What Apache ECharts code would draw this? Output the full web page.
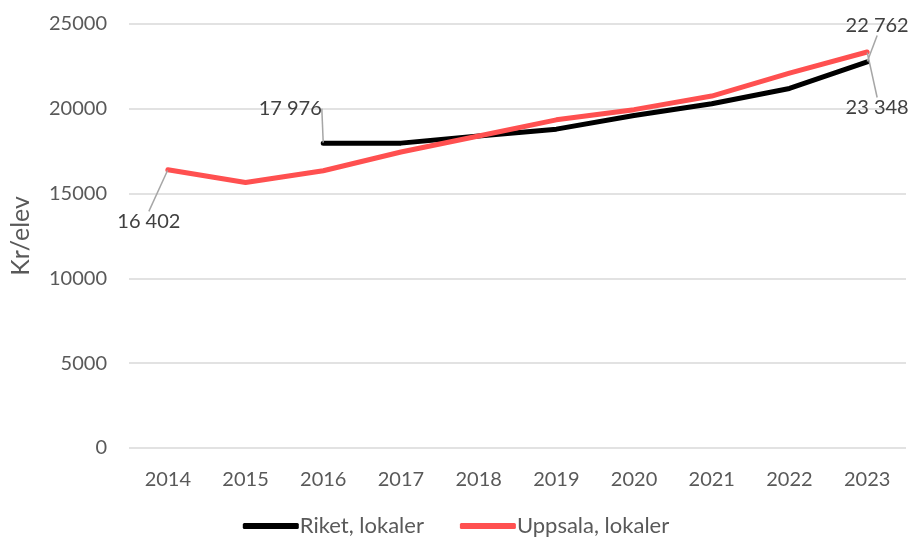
<!DOCTYPE html>
<html>
<head>
<meta charset="utf-8">
<script src="https://cdn.jsdelivr.net/npm/echarts@6/dist/echarts.min.js"></script>
<style>
    html, body { margin: 0; padding: 0; background: #fff; }
    #chart { width: 912px; height: 544px; }
</style>
</head>
<body>
<div id="chart"></div>
<script>
var years = ['2014', '2015', '2016', '2017', '2018', '2019', '2020', '2021', '2022', '2023'];
var riket = [null, null, 17976, 17976, 18400, 18800, 19600, 20300, 21200, 22762];
var uppsala = [16402, 15650, 16350, 17450, 18400, 19350, 19950, 20750, 22100, 23348];
var yTicks = [0, 5000, 10000, 15000, 20000, 25000];

var font = 'Lato, "Open Sans", sans-serif';
var grey = '#595959';

// etiketter med ledarlinje, förskjutning i px
var riketOffsets = { 2: [-33, -24], 9: [10, -26] };
var uppsalaOffsets = { 0: [-19, 62], 9: [10, 66] };

function fmtNum(v) {
    return String(v).replace(/\B(?=(\d{3})+(?!\d))/g, ' ');
}
function withLabels(values, offsets) {
    return values.map(function (v, i) {
        if (!offsets[i]) return v;
        return { value: v, label: { show: true } };
    });
}
function layoutFor(offsets) {
    return function (params) {
        var o = offsets[params.dataIndex];
        if (!o) return {};
        return { dx: o[0], dy: o[1] };
    };
}

var myChart = echarts.init(document.getElementById('chart'));
var labelStyle = {
    show: false,
    color: '#404040', fontSize: 20, fontFamily: font, position: 'top', distance: 0,
    formatter: function (p) { return fmtNum(p.value); }
};
var option = {
    animation: false,
    grid: { left: 128, right: 6, top: 24, bottom: 96 },
    legend: {
        bottom: 2,
        left: 'center',
        itemWidth: 56,
        itemHeight: 6,
        itemGap: 36,
        textStyle: { color: grey, fontSize: 22, fontFamily: font, padding: [0, 0, 0, -4] },
        data: [
            { name: 'Riket, lokaler', icon: 'roundRect' },
            { name: 'Uppsala, lokaler', icon: 'roundRect' }
        ]
    },
    xAxis: {
        type: 'category',
        data: years,
        boundaryGap: true,
        axisLine: { show: false },
        axisTick: { show: false },
        axisLabel: { color: grey, fontSize: 20, fontFamily: font, margin: 22 }
    },
    yAxis: {
        type: 'value',
        min: yTicks[0],
        max: yTicks[yTicks.length - 1],
        interval: 5000,
        name: 'Kr/elev',
        nameLocation: 'middle',
        nameGap: 96,
        nameTextStyle: { color: grey, fontSize: 25, fontFamily: font },
        axisLine: { show: false },
        axisTick: { show: false },
        axisLabel: { color: grey, fontSize: 20, fontFamily: font, margin: 22, formatter: function (v) { return String(v); } },
        splitLine: { lineStyle: { color: '#d9d9d9', width: 1.5 } }
    },
    series: [
        {
            name: 'Riket, lokaler',
            type: 'line',
            data: withLabels(riket, riketOffsets),
            symbol: 'circle',
            symbolSize: 1,
            showAllSymbol: true,
            color: '#000000',
            lineStyle: { width: 5, color: '#000000', cap: 'round' },
            label: labelStyle,
            labelLine: { show: true, lineStyle: { color: '#a6a6a6', width: 1.5 } },
            labelLayout: layoutFor(riketOffsets),
            z: 2
        },
        {
            name: 'Uppsala, lokaler',
            type: 'line',
            data: withLabels(uppsala, uppsalaOffsets),
            symbol: 'circle',
            symbolSize: 1,
            showAllSymbol: true,
            color: '#ff5050',
            lineStyle: { width: 5, color: '#ff5050', cap: 'round' },
            label: labelStyle,
            labelLine: { show: true, lineStyle: { color: '#a6a6a6', width: 1.5 } },
            labelLayout: layoutFor(uppsalaOffsets),
            z: 3
        }
    ]
};
myChart.setOption(option);
</script>
</body>
</html>
